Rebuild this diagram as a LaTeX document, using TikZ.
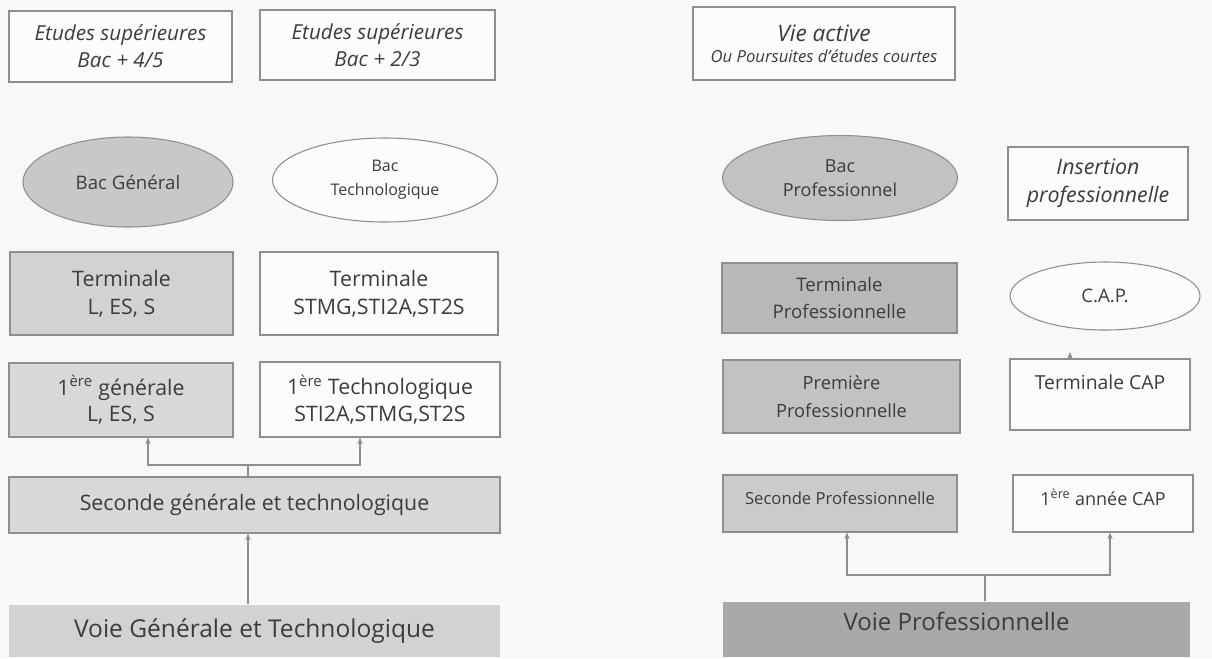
\documentclass[tikz,border=0pt]{standalone}
\usepackage{fontspec}
\setmainfont{Open Sans}
\usetikzlibrary{arrows.meta,shapes.geometric}
\definecolor{bg}{HTML}{F8F8F8}
\definecolor{lineg}{HTML}{8E8E8E}
\definecolor{txt}{HTML}{3C3C3C}
\definecolor{fillA}{HTML}{D2D2D2}
\definecolor{fillB}{HTML}{D8D8D8}
\definecolor{fillC}{HTML}{B8B8B8}
\definecolor{fillD}{HTML}{C2C2C2}
\definecolor{fillE}{HTML}{CBCBCB}
\definecolor{fillF}{HTML}{A9A9A9}
\definecolor{fillG}{HTML}{C8C8C8}
\definecolor{whitebox}{HTML}{FCFCFC}
\begin{document}
\begin{tikzpicture}[x=0.75pt,y=-0.75pt,
  box/.style={rectangle, draw=lineg, line width=0.8pt, inner sep=0pt, align=center, text=txt, fill=whitebox},
  rect/.style n args={4}{minimum width={(#3-#1)*0.75pt}, minimum height={(#4-#2)*0.75pt}, at={({(#1+#3)/2},{(#2+#4)/2})}},
  oval/.style={ellipse, draw=lineg, line width=0.8pt, inner sep=0pt, align=center, text=txt, fill=whitebox},
  arr/.style={draw=lineg, line width=0.8pt, -{Stealth[length=5pt,width=4pt]}},
  con/.style={draw=lineg, line width=0.8pt},
  fz/.style n args={2}{font=\fontsize{#1pt}{#2pt}\selectfont},
  fzi/.style n args={2}{font=\fontsize{#1pt}{#2pt}\selectfont\itshape}
]
\useasboundingbox (0,0) rectangle (1212,658);
\fill[bg] (0,0) rectangle (1212,658);

% top row
\node[box, rect={9}{11}{232}{82}, fzi={15.5}{20}] (e45) {Etudes supérieures\\Bac + 4/5};
\node[box, rect={260}{10}{495}{80}, fzi={15.5}{20}] (e23) {Etudes supérieures\\Bac + 2/3};
\node[box, rect={693}{7}{955}{80}] (vie) {{\fontsize{17pt}{19pt}\selectfont\itshape Vie active}\\[4pt]{\fontsize{12.5pt}{14pt}\selectfont\itshape Ou Poursuites d'études courtes}};

% bac row
\node[oval, fill=fillG, minimum width=157.5pt, minimum height=67.5pt, fz={14}{18}] (bg) at (128,182) {Bac Général};
\node[oval, minimum width=168.75pt, minimum height=63pt, fz={12}{18}] (bt) at (385,180) {Bac\\Technologique};
\node[oval, fill=fillD, minimum width=176.25pt, minimum height=63.75pt, fz={13.5}{18}] (bp) at (840,178) {Bac\\Professionnel};
\node[box, rect={1008}{147}{1188}{220}, fzi={16}{21}] (ins) {Insertion\\professionnelle};

% terminale row
\node[box, fill=fillA, rect={10}{252}{233}{335}, fz={16}{21}] (tls) {Terminale\\L, ES, S};
\node[box, rect={260}{252}{498}{335}, fz={16}{21}] (tst) {Terminale\\STMG,STI2A,ST2S};
\node[box, fill=fillC, rect={722}{263}{957}{333}, fz={14}{20}] (tpro) {Terminale\\Professionnelle};
\node[oval, minimum width=142.5pt, minimum height=51pt, fz={14}{16}] (cap) at (1105,296) {C.A.P.};

% premiere row
\node[box, fill=fillB, rect={9}{363}{233}{437}, fz={16}{20}] (pg) {1\textsuperscript{ère} générale\\L, ES, S};
\node[box, rect={260}{362}{500}{437}, fz={16}{20}] (pt) {1\textsuperscript{ère} Technologique\\STI2A,STMG,ST2S};
\node[box, fill=fillD, rect={723}{360}{960}{433}, fz={13.7}{21}] (ppro) {Première\\Professionnelle};
\node[box, rect={1010}{359}{1190}{430}, fz={14.5}{19}] (tcap) {Terminale CAP\\\phantom{X}};

% seconde row
\node[box, fill=fillB, rect={9}{477}{500}{533}, fz={16}{18}] (sg) {Seconde générale et technologique};
\node[box, fill=fillE, rect={723}{475}{957}{532}, fz={12.5}{16}] (spro) {\raisebox{8pt}{Seconde Professionnelle}};
\node[box, rect={1013}{475}{1193}{532}, fz={13.5}{16}] (cap1) {\raisebox{9pt}{1\textsuperscript{ère} année CAP}};

% voie row
\node[box, draw=none, fill=fillA, rect={9}{605}{500}{657}, fz={18.4}{20}] (vg) {Voie Générale et Technologique};
\node[box, draw=none, fill=fillF, rect={723}{602}{1190}{657}, fz={18}{20}] (vp) {\raisebox{13pt}{Voie Professionnelle}};

% connectors left
\coordinate (j1) at (248,465);
\coordinate (a1) at (148,0);
\coordinate (a2) at (360,0);
\draw[con] (sg.north -| j1) -- (j1);
\draw[arr] (j1) -| (pg.south -| a1);
\draw[arr] (j1) -| (pt.south -| a2);
\draw[arr] (vg.north -| j1) -- (sg.south -| j1);

% connectors right
\coordinate (j2) at (985,575);
\coordinate (b1) at (847,0);
\coordinate (b2) at (1110,0);
\draw[con] (vp.north -| j2) -- (j2);
\draw[arr] (j2) -| (spro.south -| b1);
\draw[arr] (j2) -| (cap1.south -| b2);

% small tip above Terminale CAP
\coordinate (b3) at (1070,0);
\coordinate (t3) at (1070,352);
\draw[arr] (tcap.north -| b3) -- (t3);
\end{tikzpicture}
\end{document}
